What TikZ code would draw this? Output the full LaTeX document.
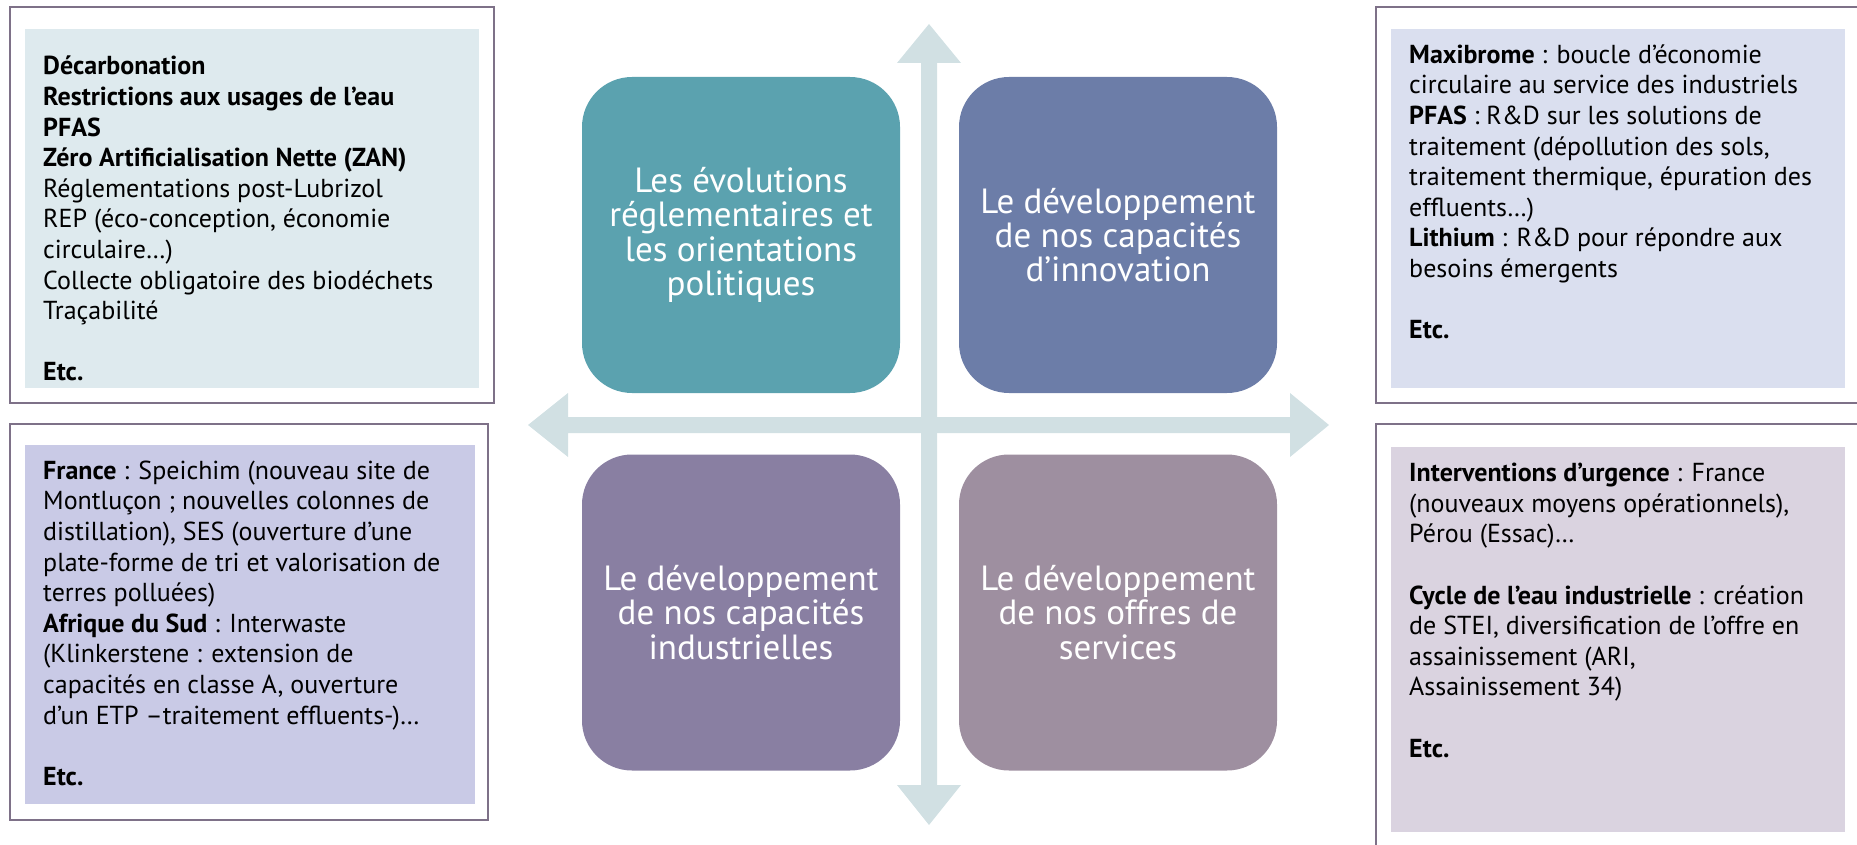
\documentclass[tikz,border=0pt]{standalone}
\usepackage{fontspec}
\setmainfont{PT Sans}
\definecolor{quadA}{HTML}{5BA2AF}
\definecolor{quadB}{HTML}{6C7DA8}
\definecolor{quadC}{HTML}{897FA2}
\definecolor{quadD}{HTML}{9E8FA0}
\definecolor{axiscol}{HTML}{D1E0E3}
\definecolor{panelA}{HTML}{DEEAEE}
\definecolor{panelB}{HTML}{DADFEF}
\definecolor{panelC}{HTML}{C9CAE6}
\definecolor{panelD}{HTML}{DAD3E0}
\definecolor{framecol}{HTML}{7E7188}
\begin{document}
\begin{tikzpicture}[x=1pt,y=-1pt,
  frame/.style={draw=framecol, line width=2pt},
  quad/.style={rounded corners=50pt, minimum width=318pt, minimum height=316pt,
    inner sep=0pt, text=white, align=center, font=\fontsize{35}{34.3}\selectfont},
  sidetext/.style={anchor=base west, inner sep=0pt, font=\fontsize{26}{30.6}\selectfont}]
\useasboundingbox (0,0) rectangle (1857,845);

% outer frames
\draw[frame] (10,7) rectangle (494,403);
\draw[frame] (10,424) rectangle (488,820);
\draw[frame] (1376,7) rectangle (1880,403);
\draw[frame] (1376,424) rectangle (1880,880);

% panel backgrounds
\fill[panelA] (25,29) rectangle (479,388);
\fill[panelB] (1391,29) rectangle (1845,388);
\fill[panelC] (25,445) rectangle (475,804);
\fill[panelD] (1391,447) rectangle (1845,832);

% axes
\fill[axiscol] (929,24) -- (961,63) -- (937,63) -- (937,785) -- (961,785) -- (929,825)
  -- (897,785) -- (921,785) -- (921,63) -- (897,63) -- cycle;
\fill[axiscol] (528,425) -- (568,393) -- (568,417) -- (1290,417) -- (1290,393) -- (1329,425)
  -- (1290,457) -- (1290,433) -- (568,433) -- (568,457) -- cycle;

% quadrants
\node[quad, fill=quadA] (qa) at (741,235) {Les évolutions\\réglementaires et\\les orientations\\politiques};
\node[quad, fill=quadB] (qb) at (1118,235) {Le développement\\de nos capacités\\d’innovation};
\node[quad, fill=quadC] (qc) at (741,612.5) {Le développement\\de nos capacités\\industrielles};
\node[quad, fill=quadD] (qd) at (1118,612.5) {Le développement\\de nos offres de\\services};

% side texts
\node[sidetext] (ta) at (43,75) {\parbox[t]{520pt}{\raggedright
\textbf{Décarbonation}\\
\textbf{Restrictions aux usages de l’eau}\\
\textbf{PFAS}\\
\textbf{Zéro Artificialisation Nette (ZAN)}\\
Réglementations post-Lubrizol\\
REP (éco-conception, économie\\
circulaire…)\\
Collecte obligatoire des biodéchets\\
Traçabilité\\[30.6pt]
\textbf{Etc.}}};

\node[sidetext] (tb) at (1409,63.3) {\parbox[t]{520pt}{\raggedright
\textbf{Maxibrome} : boucle d’économie\\
circulaire au service des industriels\\
\textbf{PFAS} : R\&D sur les solutions de\\
traitement (dépollution des sols,\\
traitement thermique, épuration des\\
effluents…)\\
\textbf{Lithium} : R\&D pour répondre aux\\
besoins émergents\\[30.6pt]
\textbf{Etc.}}};

\node[sidetext] (tc) at (43,479.3) {\parbox[t]{520pt}{\raggedright
\textbf{France} : Speichim (nouveau site de\\
Montluçon ; nouvelles colonnes de\\
distillation), SES (ouverture d’une\\
plate-forme de tri et valorisation de\\
terres polluées)\\
\textbf{Afrique du Sud} : Interwaste\\
(Klinkerstene : extension de\\
capacités en classe A, ouverture\\
d’un ETP –traitement effluents-)…\\[30.6pt]
\textbf{Etc.}}};

\node[sidetext] (td) at (1409,481.7) {\parbox[t]{520pt}{\raggedright
\textbf{Interventions d’urgence} : France\\
(nouveaux moyens opérationnels),\\
Pérou (Essac)…\\[30.6pt]
\textbf{Cycle de l’eau industrielle} : création\\
de STEI, diversification de l’offre en\\
assainissement (ARI,\\
Assainissement 34)\\[30.6pt]
\textbf{Etc.}}};
\end{tikzpicture}
\end{document}
